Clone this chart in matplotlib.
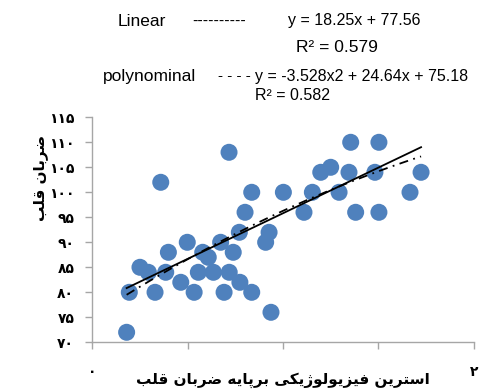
import matplotlib
matplotlib.use("Agg")
import matplotlib.pyplot as plt
import numpy as np

# ---------------- data ----------------
x_vals = [0.180, 0.194, 0.250, 0.294, 0.329, 0.385, 0.399, 0.359, 0.464, 0.498,
          0.534, 0.556, 0.579, 0.608, 0.635, 0.673, 0.691, 0.717, 0.718, 0.739,
          0.774, 0.771, 0.801, 0.836, 0.836, 0.909, 0.927, 0.937, 1.002, 1.110,
          1.154, 1.198, 1.250, 1.294, 1.346, 1.355, 1.381, 1.482, 1.503, 1.503,
          1.666, 1.724]
y_vals = [72, 80, 85, 84, 80, 84, 88, 102, 82, 90,
          80, 84, 88, 87, 84, 90, 80, 108, 84, 88,
          82, 92, 96, 100, 80, 90, 92, 76, 100, 96,
          100, 104, 105, 100, 104, 110, 96, 104, 110, 96,
          100, 104]

lin_coef = [18.25, 77.56]            # slope, intercept
poly_coef = [-3.528, 24.64, 75.18]   # a, b, c

y_ticks = [70, 75, 80, 85, 90, 95, 100, 105, 110, 115]
x_ticks = [0, 0.5, 1, 1.5, 2]
x_tick_labels = ["۰", "", "", "", "۲"]

y_label = "ضربان قلب"
x_label = "استرین فیزیولوژیکی برپایه ضربان قلب"

# ------------- simple Persian shaping (presentation forms) -------------
FORMS = {  # iso, fin, ini, med
    'ب': ('\uFE8F', '\uFE90', '\uFE91', '\uFE92'),
    'پ': ('\uFB56', '\uFB57', '\uFB58', '\uFB59'),
    'ت': ('\uFE95', '\uFE96', '\uFE97', '\uFE98'),
    'س': ('\uFEB1', '\uFEB2', '\uFEB3', '\uFEB4'),
    'ض': ('\uFEBD', '\uFEBE', '\uFEBF', '\uFEC0'),
    'ف': ('\uFED1', '\uFED2', '\uFED3', '\uFED4'),
    'ق': ('\uFED5', '\uFED6', '\uFED7', '\uFED8'),
    'ک': ('\uFB8E', '\uFB8F', '\uFB90', '\uFB91'),
    'ل': ('\uFEDD', '\uFEDE', '\uFEDF', '\uFEE0'),
    'ن': ('\uFEE5', '\uFEE6', '\uFEE7', '\uFEE8'),
    'ه': ('\uFEE9', '\uFEEA', '\uFEEB', '\uFEEC'),
    'ی': ('\uFBFC', '\uFBFD', '\uFBFE', '\uFBFF'),
    'ا': ('\uFE8D', '\uFE8E', None, None),
    'ر': ('\uFEAD', '\uFEAE', None, None),
    'ز': ('\uFEAF', '\uFEB0', None, None),
    'ژ': ('\uFB8A', '\uFB8B', None, None),
    'و': ('\uFEED', '\uFEEE', None, None),
}


def dual(c):
    return c in FORMS and FORMS[c][2] is not None


def shape(text):
    out = []
    n = len(text)
    for i, c in enumerate(text):
        if c not in FORMS:
            out.append(c)
            continue
        prev_join = i > 0 and dual(text[i - 1])
        next_join = dual(c) and i + 1 < n and text[i + 1] in FORMS
        iso, fin, ini, med = FORMS[c]
        if prev_join and next_join:
            out.append(med)
        elif prev_join:
            out.append(fin)
        elif next_join:
            out.append(ini)
        else:
            out.append(iso)
    return ''.join(reversed(out))


def fa_digits(v):
    return str(v).translate(str.maketrans("0123456789", "۰۱۲۳۴۵۶۷۸۹"))


# ---------------- figure ----------------
W, H = 479, 390
fig = plt.figure(figsize=(W / 100, H / 100), dpi=100)
ax = fig.add_axes([92.3 / W, 1 - 342.3 / H, (473.7 - 92.3) / W, (342.3 - 117.3) / H])

ax.scatter(x_vals, y_vals, s=150, color='#4F81BD', edgecolors='none', zorder=2)

xs = np.array(x_vals)
xl = np.linspace(xs.min(), xs.max(), 100)
ax.plot(xl, lin_coef[0] * xl + lin_coef[1], color='black', lw=1.3, zorder=3)
ax.plot(xl, poly_coef[0] * xl ** 2 + poly_coef[1] * xl + poly_coef[2],
        color='black', lw=1.3, dashes=(5, 3, 1, 3), zorder=3)

ax.set_xlim(0, 2)
ax.set_ylim(70, 115)
ax.set_yticks(y_ticks)
ax.set_yticklabels([fa_digits(v) for v in y_ticks], fontsize=10, fontweight='bold',
                   family='DejaVu Sans')
ax.set_xticks(x_ticks)
ax.set_xticklabels(x_tick_labels, fontsize=10, fontweight='bold', family='DejaVu Sans')
for s in ['top', 'right']:
    ax.spines[s].set_visible(False)
for s in ['left', 'bottom']:
    ax.spines[s].set_color('#A6A6A6')
    ax.spines[s].set_linewidth(1.0)
ax.tick_params(axis='both', color='#A6A6A6', length=5, width=1, direction='out')
ax.tick_params(axis='y', pad=8)
ax.tick_params(axis='x', pad=11)

fig.text(283 / W, 1 - 380 / H, shape(x_label), fontsize=11, fontweight='bold',
         family='DejaVu Sans', ha='center', va='center')
fig.text(40 / W, 1 - 178 / H, shape(y_label), fontsize=11, fontweight='bold',
         family='DejaVu Sans', ha='center', va='center', rotation=90)

tf = 'Liberation Sans'
fig.text(118 / W, 1 - 21 / H, "Linear", fontsize=12.5, family=tf, ha='left', va='center')
fig.text(192 / W, 1 - 21 / H, "----------", fontsize=11.5, family=tf, ha='left', va='center')
fig.text(288 / W, 1 - 21 / H, "y = 18.25x + 77.56", fontsize=11.5, family=tf,
         ha='left', va='center')
fig.text(296 / W, 1 - 47 / H, "R² = 0.579", fontsize=12.5, family=tf, ha='left', va='center')
fig.text(103 / W, 1 - 76 / H, "polynominal", fontsize=12.5, family=tf, ha='left', va='center')
fig.text(218 / W, 1 - 76 / H, "- - - -", fontsize=11, family=tf, ha='left', va='center')
fig.text(255 / W, 1 - 76 / H, "y = -3.528x2 + 24.64x + 75.18", fontsize=11.5, family=tf,
         ha='left', va='center')
fig.text(255 / W, 1 - 96 / H, "R² = 0.582", fontsize=11.5, family=tf, ha='left', va='center')

fig.savefig("out.png", dpi=100)
